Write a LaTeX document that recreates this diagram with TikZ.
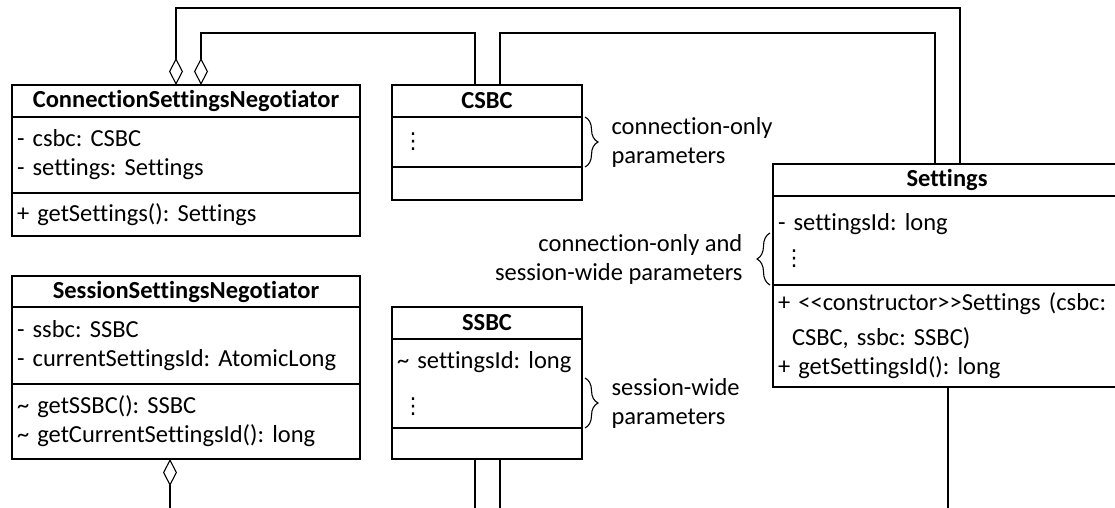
\documentclass[tikz,border=0pt]{standalone}
\usepackage{fontspec}
\setmainfont{Carlito}[Ligatures=NoCommon]
\newfontfamily\symfont{DejaVu Sans}
\usetikzlibrary{positioning,arrows.meta,decorations.pathreplacing}

\newcommand{\umlfont}{\fontsize{24.5}{29}\selectfont\frenchspacing}
\newcommand{\vdotsx}{\hspace*{5pt}{\symfont\fontsize{22}{24}\selectfont ⋮}}
\newcommand{\tld}{\textasciitilde}
\newcommand{\stereo}[1]{<\kern0pt<#1>\kern0pt>}

\tikzset{
  umlhead/.style={draw, line width=1.1pt, outer sep=0pt, inner sep=2pt,
    minimum height=32pt, font=\umlfont\bfseries, anchor=north west},
  umlpart/.style={draw, line width=1.1pt, outer sep=0pt, inner xsep=5pt,
    inner ysep=2pt, align=left},
  agg/.style={{Diamond[open,length=27pt,width=14pt]}-},
  brace/.style={decorate, decoration={brace, amplitude=13pt}},
  note/.style={inner sep=0pt}
}

\begin{document}
\begin{tikzpicture}[x=1pt, y=1pt, line width=1.1pt, font=\umlfont, node distance=0pt]
\useasboundingbox (0,0) rectangle (1115,-508);
\clip (0,0) rectangle (1115,-508);

% connection side
\node[umlhead, minimum width=348pt] (csn) at (12,-85) {ConnectionSettingsNegotiator};
\node[umlpart, text width=338pt, minimum height=76pt, below=of csn] (csn-a) {- csbc: CSBC\\- settings: Settings};
\node[umlpart, text width=338pt, minimum height=43pt, below=of csn-a] (csn-o) {+ getSettings(): Settings};

\node[umlhead, minimum width=190pt] (csbc) at (392,-85) {CSBC};
\node[umlpart, text width=180pt, minimum height=50pt, below=of csbc] (csbc-a) {\vdotsx};
\node[umlpart, text width=180pt, minimum height=33pt, below=of csbc-a] (csbc-o) {};

% settings
\node[umlhead, minimum width=348pt] (settings) at (773,-164) {Settings};
\node[umlpart, text width=338pt, minimum height=89pt, below=of settings] (settings-a) {- settingsId: long\\[6pt]\vdotsx};
\node[umlpart, text width=338pt, minimum height=102pt, below=of settings-a] (settings-o)
  {+ \stereo{constructor}Settings (csbc:\\[6pt]\hspace*{14pt}CSBC, ssbc: SSBC)\\+ getSettingsId(): long};

% session side
\node[umlhead, minimum width=348pt, minimum height=31pt] (ssn) at (12,-276) {SessionSettingsNegotiator};
\node[umlpart, text width=338pt, minimum height=77pt, below=of ssn] (ssn-a) {- ssbc: SSBC\\- currentSettingsId: AtomicLong};
\node[umlpart, text width=338pt, minimum height=75pt, below=of ssn-a] (ssn-o) {\tld{} getSSBC(): SSBC\\\tld{} getCurrentSettingsId(): long};

\node[umlhead, minimum width=190pt] (ssbc) at (392,-307) {SSBC};
\node[umlpart, text width=180pt, minimum height=89pt, below=of ssbc] (ssbc-a) {\tld{} settingsId: long\\[16pt]\vdotsx};
\node[umlpart, text width=180pt, minimum height=31pt, below=of ssbc-a] (ssbc-o) {};

% braces
\draw[brace] ([xshift=3pt]csbc-a.north east) -- ([xshift=3pt]csbc-a.south east)
  node[note, midway, right=26pt, align=left] (csbc-note) {connection-only\\parameters};
\draw[brace] ([shift={(3pt,50pt)}]ssbc-a.south east) -- ([xshift=3pt]ssbc-a.south east)
  node[note, midway, right=26pt, align=left] (ssbc-note) {session-wide\\parameters};
\draw[brace] ([xshift=-3pt]settings-a.south west) -- ([shift={(-3pt,52pt)}]settings-a.south west)
  node[note, midway, left=27pt, align=right] (settings-note) {connection-only and\\session-wide parameters};

% connectors
\coordinate (top1) at (0,-8);
\coordinate (top2) at (0,-33);
\coordinate (bot) at (0,-520);
\draw[agg] ([xshift=-10pt]csn.north) |- ([xshift=13pt]settings.north |- top1) -- ([xshift=13pt]settings.north);
\draw[agg] ([xshift=15pt]csn.north) |- ([xshift=-12pt]csbc.north |- top2) -- ([xshift=-12pt]csbc.north);
\draw ([xshift=13pt]csbc.north) |- ([xshift=-12pt]settings.north |- top2) -- ([xshift=-12pt]settings.north);
\draw[agg] ([xshift=-16pt]ssn-o.south) -- ([xshift=-16pt]ssn-o.south |- bot);
\draw ([xshift=-12pt]ssbc-o.south) -- ([xshift=-12pt]ssbc-o.south |- bot);
\draw ([xshift=13pt]ssbc-o.south) -- ([xshift=13pt]ssbc-o.south |- bot);
\draw ([xshift=1pt]settings-o.south) -- ([xshift=1pt]settings-o.south |- bot);
\end{tikzpicture}
\end{document}
